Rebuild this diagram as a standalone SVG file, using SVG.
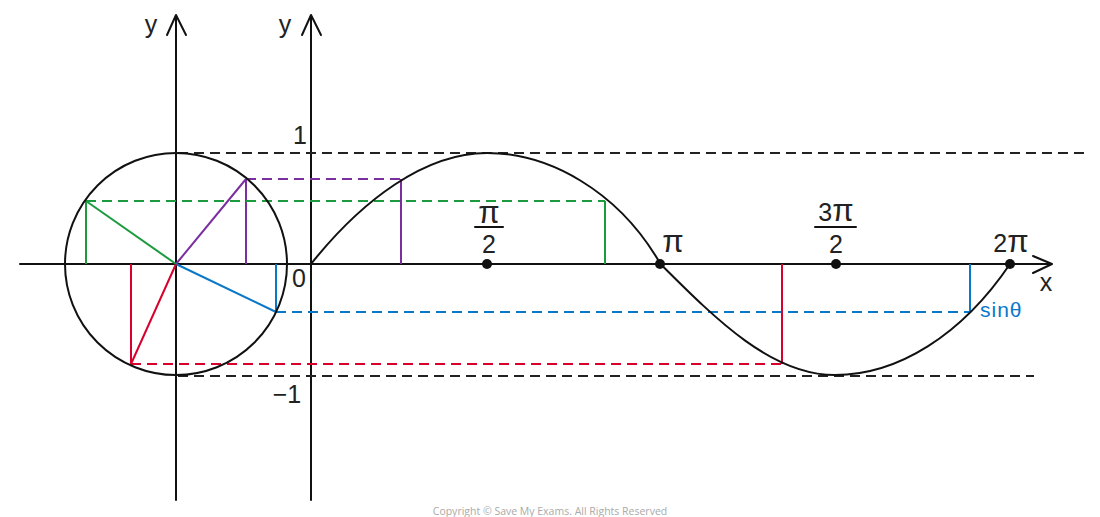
<svg xmlns="http://www.w3.org/2000/svg" width="1100" height="517" viewBox="0 0 1100 517">
<style>
.ax{stroke:#111;stroke-width:2;fill:none;stroke-linecap:round;stroke-linejoin:round}
.curve{stroke:#111;stroke-width:2;fill:none}
.dash{stroke-width:2;stroke-dasharray:10 6;fill:none}
.k{stroke:#222}
.g{stroke:#1b9a3e}
.p{stroke:#7a2fa0}
.b{stroke:#0a78c8}
.r{stroke:#d8002c}
.sol{stroke-width:2;fill:none}
.t{font-family:"Liberation Sans",Arial,sans-serif;font-size:25px;fill:#222}
.pi{font-size:31px}
.dot{fill:#111}
</style>
<rect width="1100" height="517" fill="#fff"/>
<g id="connectors">
  <line class="ax" x1="20" y1="264" x2="1050" y2="264"/>
  <polyline class="ax" points="1033,256 1052,264 1033,273"/>
  <line class="ax" x1="176" y1="17" x2="176" y2="500"/>
  <polyline class="ax" points="167,35 176,15 186,35"/>
  <line class="ax" x1="311" y1="17" x2="311" y2="500"/>
  <polyline class="ax" points="302,35 311,15 321,35"/>
  <line class="dash k" x1="178" y1="153" x2="1090" y2="153"/>
  <line class="dash k" x1="178" y1="376" x2="1034" y2="376"/>
  <line class="sol p" x1="176" y1="264" x2="246" y2="179"/>
  <line class="sol p" x1="246" y1="179" x2="246" y2="264"/>
  <line class="dash p" x1="246" y1="179" x2="401" y2="179"/>
  <line class="sol p" x1="401" y1="179" x2="401" y2="264"/>
  <line class="sol g" x1="176" y1="264" x2="86" y2="201"/>
  <line class="sol g" x1="86" y1="201" x2="86" y2="264"/>
  <line class="dash g" x1="86" y1="201" x2="605" y2="201"/>
  <line class="sol g" x1="605" y1="201" x2="605" y2="264"/>
  <line class="sol b" x1="176" y1="264" x2="276" y2="312"/>
  <line class="sol b" x1="276" y1="264" x2="276" y2="312"/>
  <line class="dash b" x1="276" y1="312" x2="970" y2="312"/>
  <line class="sol b" x1="970" y1="264" x2="970" y2="312"/>
  <line class="sol r" x1="176" y1="264" x2="131" y2="364"/>
  <line class="sol r" x1="131" y1="264" x2="131" y2="364"/>
  <line class="dash r" x1="131" y1="364" x2="782" y2="364"/>
  <line class="sol r" x1="782" y1="264" x2="782" y2="364"/>
</g>
<g id="circle">
  <circle class="curve" cx="176" cy="264" r="111"/>
</g>
<g id="sine">
  <path class="curve" d="M311,264 C362,200 425,153 487,153 C548,153 618,190 660.5,264 C717.5,321 772,375 835,375 C898,375 962,335 1010,264"/>
</g>
<g id="points">
  <circle class="dot" cx="487" cy="264" r="5"/>
  <circle class="dot" cx="660" cy="264" r="5"/>
  <circle class="dot" cx="836" cy="264" r="5"/>
  <circle class="dot" cx="1010" cy="264" r="5"/>
</g>
<g id="labels">
  <text class="t" x="151" y="33" text-anchor="middle">y</text>
  <text class="t" x="285" y="33" text-anchor="middle">y</text>
  <text class="t" x="300" y="144" text-anchor="middle">1</text>
  <text class="t" x="299" y="287" text-anchor="middle">0</text>
  <text class="t" x="287" y="403" text-anchor="middle">−1</text>
  <text class="t pi" x="489" y="223" text-anchor="middle">π</text>
  <line class="ax" x1="475" y1="227" x2="503" y2="227"/>
  <text class="t" x="489" y="253" text-anchor="middle">2</text>
  <text class="t pi" x="673" y="252" text-anchor="middle">π</text>
  <text class="t" x="836" y="221" text-anchor="middle">3<tspan class="pi">π</tspan></text>
  <line class="ax" x1="815" y1="227" x2="856" y2="227"/>
  <text class="t" x="836" y="253" text-anchor="middle">2</text>
  <text class="t" x="1011" y="252" text-anchor="middle">2<tspan class="pi">π</tspan></text>
  <text class="t" x="1046" y="291" text-anchor="middle">x</text>
  <text x="980" y="317" style="font-family:'Liberation Sans',Arial,sans-serif;font-size:21px;letter-spacing:1px;fill:#0a78c8">sinθ</text>
  <text x="550" y="515" text-anchor="middle" style="font-family:'Open Sans',sans-serif;font-size:10.5px;fill:#aaa">Copyright © Save My Exams. All Rights Reserved</text>
</g>
</svg>
